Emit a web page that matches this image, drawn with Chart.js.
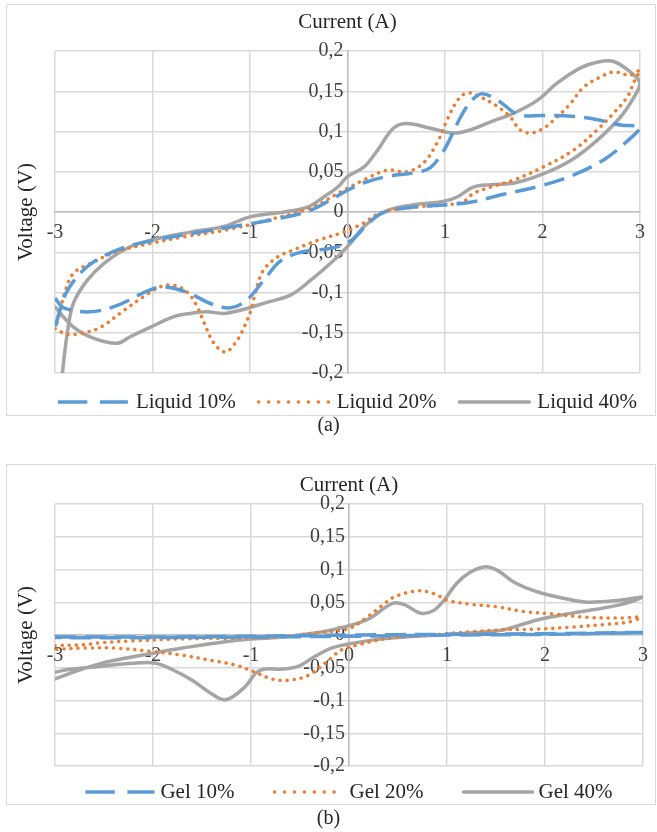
<!DOCTYPE html>
<html>
<head>
<meta charset="utf-8">
<script src="https://cdn.jsdelivr.net/npm/chart.js@4.4.1/dist/chart.umd.min.js"></script>
<style>
   body { margin: 0; background: #fff; width: 657px; height: 832px; position: relative; overflow: hidden; }
   .frame { position: absolute; border: 1px solid #d9d9d9; box-sizing: border-box; }
   canvas { position: absolute; left: 0; }
   .cap { position: absolute; width: 657px; text-align: center; font: 20px "Liberation Serif"; color: #262626; }
</style>
</head>
<body>
<div class="frame" style="left:6px; top:4px; width:650px; height:412px;"></div>
<div class="frame" style="left:6px; top:464px; width:650px; height:341px;"></div>
<canvas id="liquid-chart" width="657" height="430" style="top:0"></canvas>
<canvas id="gel-chart" width="657" height="402" style="top:430px"></canvas>
<div class="cap" style="top:413px; left:0;">(a)</div>
<div class="cap" style="top:806px; left:0;">(b)</div>
<script>
// axis ticks
const xTicks = [-3, -2, -1, 0, 1, 2, 3];
const yTicks = [-0.2, -0.15, -0.1, -0.05, 0, 0.05, 0.1, 0.15, 0.2];

const liquidNames = ['Liquid 10%', 'Liquid 20%', 'Liquid 40%'];
const gelNames = ['Gel 10%', 'Gel 20%', 'Gel 40%'];

// [current, voltage] pairs, in loop order
const liquid10 = [[-3, -0.107], [-2.91, -0.119], [-2.64, -0.124], [-2.36, -0.116], [-2.05, -0.098], [-1.89, -0.093],
   [-1.64, -0.1], [-1.4, -0.114], [-1.2, -0.119], [-1.03, -0.109], [-0.86, -0.085], [-0.69, -0.061], [-0.48, -0.05],
   [-0.17, -0.045], [0.03, -0.036], [0.2, -0.016], [0.34, -0.002], [0.6, 0.005], [1.02, 0.009], [1.26, 0.012],
   [1.6, 0.022], [2.0, 0.033], [2.32, 0.046], [2.63, 0.065], [2.85, 0.086], [3, 0.105], [2.8, 0.108], [2.55, 0.115],
   [2.3, 0.119], [2.0, 0.12], [1.75, 0.121], [1.55, 0.138], [1.38, 0.147], [1.27, 0.138], [1.16, 0.118], [1.06, 0.093],
   [0.98, 0.075], [0.85, 0.055], [0.7, 0.049], [0.4, 0.044], [0.16, 0.036], [0, 0.027], [-0.1, 0.02], [-0.38, 0.002],
   [-0.7, -0.008], [-1.07, -0.016], [-1.51, -0.025], [-2.02, -0.036], [-2.36, -0.047], [-2.67, -0.068],
   [-2.87, -0.097], [-2.96, -0.126], [-3, -0.145]];
const liquid20 = [[-3, -0.145], [-2.87, -0.152], [-2.7, -0.15], [-2.53, -0.143], [-2.29, -0.122], [-2.09, -0.105],
   [-1.92, -0.093], [-1.78, -0.091], [-1.64, -0.1], [-1.54, -0.118], [-1.47, -0.138], [-1.37, -0.163], [-1.25, -0.174],
   [-1.13, -0.159], [-1.06, -0.143], [-0.99, -0.122], [-0.93, -0.093], [-0.86, -0.072], [-0.72, -0.056],
   [-0.55, -0.047], [-0.3, -0.035], [-0.04, -0.025], [0.16, -0.014], [0.34, -0.001], [0.68, 0.006], [1.02, 0.009],
   [1.19, 0.013], [1.29, 0.023], [1.47, 0.031], [1.71, 0.04], [2.01, 0.056], [2.32, 0.077], [2.56, 0.102],
   [2.73, 0.123], [2.87, 0.143], [2.94, 0.162], [3, 0.176], [2.9, 0.17], [2.73, 0.174], [2.6, 0.168], [2.42, 0.155],
   [2.29, 0.135], [2.15, 0.118], [2.01, 0.104], [1.88, 0.098], [1.77, 0.102], [1.67, 0.118], [1.54, 0.131],
   [1.36, 0.143], [1.23, 0.148], [1.13, 0.139], [1.02, 0.114], [0.92, 0.086], [0.78, 0.061], [0.61, 0.05],
   [0.41, 0.052], [0.17, 0.04], [-0.04, 0.027], [-0.38, 0.005], [-0.82, -0.01], [-1.23, -0.022], [-1.68, -0.031],
   [-2.02, -0.039], [-2.36, -0.049], [-2.64, -0.064], [-2.81, -0.076], [-2.9, -0.1], [-2.96, -0.13], [-3, -0.145]];
const liquid40 = [[-3, -0.118], [-2.81, -0.143], [-2.6, -0.157], [-2.36, -0.163], [-2.23, -0.155], [-2.02, -0.143],
   [-1.78, -0.13], [-1.61, -0.126], [-1.44, -0.124], [-1.27, -0.126], [-1.1, -0.122], [-0.82, -0.112], [-0.58, -0.103],
   [-0.38, -0.085], [-0.14, -0.06], [0.03, -0.039], [0.17, -0.018], [0.41, 0.002], [0.68, 0.009], [0.98, 0.013],
   [1.13, 0.019], [1.29, 0.031], [1.47, 0.034], [1.71, 0.036], [1.98, 0.046], [2.29, 0.064], [2.56, 0.089],
   [2.8, 0.118], [2.94, 0.143], [3, 0.16], [2.9, 0.174], [2.73, 0.187], [2.56, 0.186], [2.39, 0.179], [2.15, 0.16],
   [1.95, 0.139], [1.71, 0.123], [1.47, 0.112], [1.26, 0.102], [1.09, 0.098], [0.85, 0.104], [0.61, 0.11],
   [0.47, 0.104], [0.31, 0.077], [0.17, 0.056], [0, 0.044], [-0.1, 0.031], [-0.24, 0.019], [-0.41, 0.006],
   [-0.65, 0], [-1.0, -0.006], [-1.27, -0.018], [-1.61, -0.025], [-2.02, -0.035], [-2.26, -0.045], [-2.5, -0.064],
   [-2.67, -0.085], [-2.81, -0.113], [-2.87, -0.147], [-2.92, -0.196], [-2.95, -0.24]];

const gel10 = [[-3, -0.003], [-2, -0.003], [-1, -0.002], [0, 0], [1, 0.001], [2, 0.002], [3, 0.004], [2, 0.001],
   [1, 0], [0, -0.002], [-1, -0.003], [-2, -0.004], [-3, -0.004]];
const gel20 = [[-3, -0.016], [-2.72, -0.015], [-2.55, -0.012], [-2.21, -0.009], [-1.71, -0.006], [-1.2, -0.005],
   [-0.69, -0.003], [-0.35, 0.003], [0, 0.01], [0.19, 0.028], [0.32, 0.043], [0.46, 0.058], [0.67, 0.067],
   [0.8, 0.066], [0.9, 0.061], [1.0, 0.053], [1.24, 0.047], [1.51, 0.043], [1.78, 0.036], [2.09, 0.032],
   [2.43, 0.027], [2.76, 0.026], [2.97, 0.027], [2.86, 0.02], [2.6, 0.016], [2.26, 0.012], [1.92, 0.009],
   [1.58, 0.008], [1.24, 0.005], [0.9, 0.001], [0.4, -0.005], [0.09, -0.015], [-0.08, -0.023], [-0.22, -0.04],
   [-0.42, -0.062], [-0.62, -0.069], [-0.79, -0.067], [-0.97, -0.056], [-1.16, -0.046], [-1.4, -0.039],
   [-1.7, -0.031], [-2.02, -0.025], [-2.38, -0.02], [-2.7, -0.02], [-3, -0.022]];
const gel40 = [[-3, -0.067], [-2.55, -0.044], [-2.0, -0.028], [-1.7, -0.02], [-1.2, -0.009], [-0.69, -0.003],
   [-0.35, 0.003], [-0.11, 0.01], [0.09, 0.018], [0.22, 0.026], [0.36, 0.041], [0.46, 0.049], [0.57, 0.046],
   [0.7, 0.035], [0.77, 0.033], [0.87, 0.038], [0.97, 0.053], [1.1, 0.079], [1.24, 0.096], [1.38, 0.104],
   [1.51, 0.099], [1.68, 0.081], [1.92, 0.066], [2.19, 0.056], [2.43, 0.05], [2.76, 0.053], [3, 0.058],
   [2.76, 0.046], [2.26, 0.033], [1.92, 0.023], [1.58, 0.008], [1.41, 0.005], [0.9, 0], [0.4, -0.005],
   [0.06, -0.012], [-0.18, -0.02], [-0.35, -0.033], [-0.52, -0.048], [-0.69, -0.052], [-0.86, -0.052],
   [-0.95, -0.058], [-1.06, -0.079], [-1.26, -0.099], [-1.43, -0.087], [-1.6, -0.069], [-1.8, -0.053],
   [-1.97, -0.043], [-2.21, -0.043], [-2.55, -0.048], [-2.88, -0.053], [-3, -0.057]];

// line looks: blue long dash, orange round dot, gray solid
const lineStyles = [
   { color: '#5B9BD5', dash: [21, 9], cap: 'butt' },
   { color: '#ED7D31', dash: [0.1, 7], cap: 'round' },
   { color: '#A5A5A5', dash: [], cap: 'round' }
];

Chart.defaults.font.family = '"Liberation Serif"';
Chart.defaults.font.size = 20;
Chart.defaults.color = '#404040';

// axis titles and a legend with line samples
const deco = {
   id: 'deco',
   afterDraw(chart, args, o) {
      const { ctx, chartArea: a } = chart;
      ctx.save();
      ctx.fillStyle = '#262626';
      ctx.font = '21px "Liberation Serif"';
      ctx.textBaseline = 'middle';
      ctx.textAlign = 'center';
      ctx.fillText(o.xTitle, (a.left + a.right) / 2, o.xTitleY);
      ctx.save();
      ctx.translate(o.yTitleX, (a.top + a.bottom) / 2);
      ctx.rotate(-Math.PI / 2);
      ctx.fillText(o.yTitle, 0, 0);
      ctx.restore();

      // legend
      ctx.textAlign = 'left';
      const sets = chart.data.datasets;
      const widths = sets.map(d => ctx.measureText(d.label).width);
      const total = widths.reduce((s, w) => s + o.sampleW + o.sampleGap + w, 0) + o.itemGap * (sets.length - 1);
      let x = (a.left + a.right) / 2 - total / 2;
      sets.forEach((d, i) => {
         ctx.beginPath();
         ctx.strokeStyle = d.borderColor;
         ctx.lineWidth = d.borderWidth;
         ctx.lineCap = d.borderCapStyle;
         ctx.setLineDash(d.borderDash.map(v => v * 1.4));
         ctx.moveTo(x, o.legendY);
         ctx.lineTo(x + o.sampleW, o.legendY);
         ctx.stroke();
         ctx.setLineDash([]);
         x += o.sampleW + o.sampleGap;
         ctx.fillText(d.label, x, o.legendY);
         x += widths[i] + o.itemGap;
      });
      ctx.restore();
   }
};

function makeChart(id, names, series, pad, deco_opts) {
   const ctx = document.getElementById(id).getContext('2d');
   return new Chart(ctx, {
      type: 'scatter',
      data: {
         datasets: series.map((pts, i) => ({
            label: names[i],
            data: pts.map(([x, y]) => ({ x, y })),
            showLine: true,
            pointRadius: 0,
            borderColor: lineStyles[i].color,
            borderDash: lineStyles[i].dash,
            borderCapStyle: lineStyles[i].cap,
            borderWidth: 3.5,
            tension: 0.35,
            fill: false
         }))
      },
      options: {
         responsive: false,
         animation: false,
         layout: { padding: pad },
         plugins: {
            legend: { display: false },
            tooltip: { enabled: false },
            deco: deco_opts
         },
         scales: {
            x: {
               type: 'linear',
               min: -3, max: 3,
               position: { y: 0 },
               afterBuildTicks: s => { s.ticks = xTicks.map(v => ({ value: v })); },
               ticks: { padding: 9, maxRotation: 0, autoSkip: false },
               grid: { color: '#d9d9d9', lineWidth: 1.5, drawTicks: false },
               border: { color: '#bfbfbf', width: 1.5 }
            },
            y: {
               min: -0.2, max: 0.2,
               position: { x: 0 },
               afterBuildTicks: s => { s.ticks = yTicks.map(v => ({ value: v })); },
               ticks: {
                  autoSkip: false,
                  // thin space keeps the label off the axis line
                  callback: v => String(Math.round(v * 100) / 100).replace('.', ',') + '\u2009'
               },
               grid: { color: '#d9d9d9', lineWidth: 1.5, drawTicks: false },
               border: { color: '#bfbfbf', width: 1.5 }
            }
         }
      },
      plugins: [deco]
   });
}

// Liquid chart
makeChart('liquid-chart', liquidNames, [liquid10, liquid20, liquid40],
   { left: 55, right: 17, top: 51, bottom: 57 },
   { xTitle: 'Current (A)', xTitleY: 22, yTitle: 'Voltage (V)', yTitleX: 26,
     legendY: 402, sampleW: 70, sampleGap: 8, itemGap: 23 });

// Gel chart
makeChart('gel-chart', gelNames, [gel10, gel20, gel40],
   { left: 55, right: 11, top: 74, bottom: 66 },
   { xTitle: 'Current (A)', xTitleY: 55, yTitle: 'Voltage (V)', yTitleX: 26,
     legendY: 362, sampleW: 69, sampleGap: 6, itemGap: 40 });
</script>
</body>
</html>
